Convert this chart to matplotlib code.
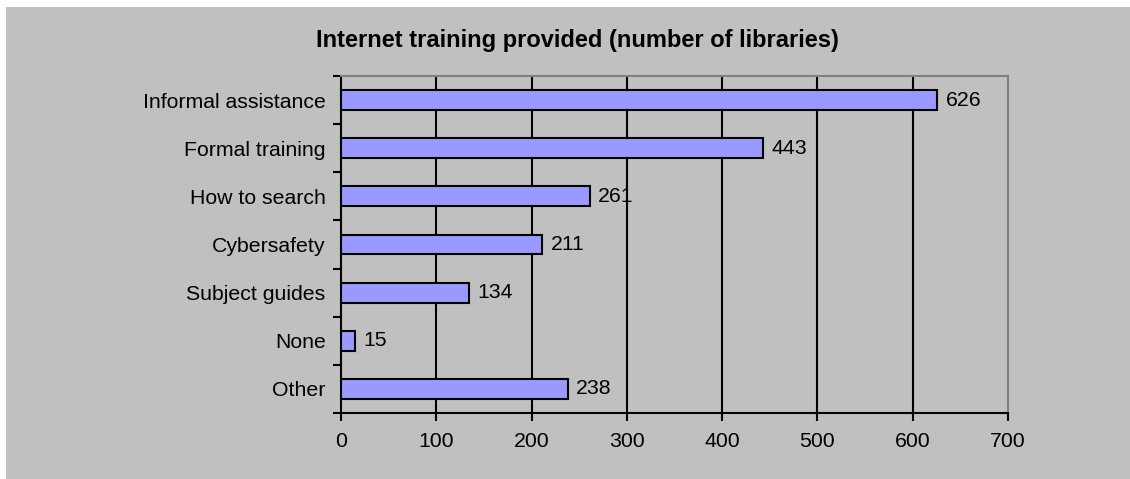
import numpy as np
import matplotlib
matplotlib.use("Agg")
import matplotlib.pyplot as plt
from matplotlib.patches import Rectangle

plt.rcParams['font.family'] = ['Liberation Sans', 'DejaVu Sans']

categories = ["Informal assistance", "Formal training", "How to search",
              "Cybersafety", "Subject guides", "None", "Other"]
values = [626, 443, 261, 211, 134, 15, 238]
xticks = [0, 100, 200, 300, 400, 500, 600, 700]

W, H = 1130, 479
fs = 15.3
fig = plt.figure(figsize=(W / 100, H / 100), dpi=100)
fig.patch.set_facecolor("white")
# grey chart area, leaves a thin white strip top and left
fig.patches.append(Rectangle((6 / W, 0), 1, 1 - 7 / H, transform=fig.transFigure,
                             facecolor="#C0C0C0", edgecolor="none", zorder=-10))

left, right, top, bottom = 341, 1008, 76, 413
ax = fig.add_axes([left / W, 1 - bottom / H, (right - left) / W, (bottom - top) / H])
ax.set_facecolor("#C0C0C0")

n = len(categories)
y = np.arange(n)
ax.barh(y, values, height=0.41, color="#9999FF", edgecolor="black", linewidth=1.5, zorder=3)
for yi, v in zip(y, values):
    ax.text(v + 9, yi, str(v), va="center", ha="left", fontsize=fs, zorder=4)

ax.set_xlim(0, 700)
ax.set_ylim(n - 0.5, -0.5)
ax.set_xticks(xticks)
ax.set_xticklabels([str(t) for t in xticks], fontsize=fs)
ax.tick_params(axis="x", direction="out", length=6, width=1.5, pad=8)

ax.set_yticks(y)
ax.set_yticklabels(categories, fontsize=fs)
ax.tick_params(axis="y", which="major", length=0, pad=11)
ax.set_yticks(np.arange(-0.5, n, 1), minor=True)
ax.tick_params(axis="y", which="minor", direction="out", length=6, width=1.5)

for x in xticks[1:-1]:
    ax.axvline(x, color="black", linewidth=1.5, zorder=1)

ax.spines["left"].set_linewidth(1.5)
ax.spines["bottom"].set_linewidth(1.5)
ax.spines["top"].set_color("#808080")
ax.spines["right"].set_color("#808080")
ax.spines["top"].set_linewidth(1.5)
ax.spines["right"].set_linewidth(1.5)

fig.text(577 / W, 1 - 41 / H, "Internet training provided (number of libraries)",
         ha="center", va="center", fontsize=17, fontweight="bold")

fig.savefig("out.png", dpi=100, facecolor=fig.get_facecolor())
